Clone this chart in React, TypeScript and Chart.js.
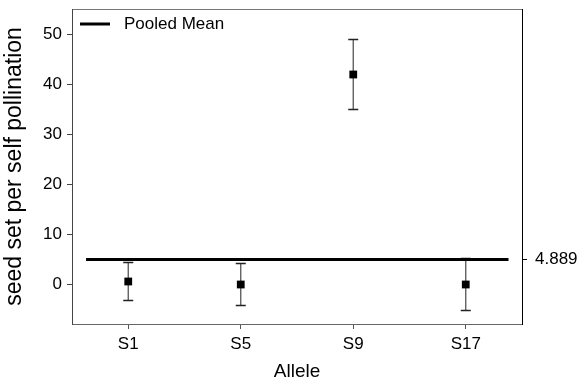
import { useEffect, useRef } from 'react';
import { Chart, registerables } from 'chart.js';

Chart.register(...registerables);

const categories = ['S1', 'S5', 'S9', 'S17'];
const means = [0.5, -0.1, 41.9, -0.1];
const errors = [3.8, 4.2, 7.0, 5.2];
const pooledMean = 4.889;
const pooledMeanLabel = '4.889';
const meanLineStart = -0.375;
const meanLineEnd = 3.38;
const yTicks = [0, 10, 20, 30, 40, 50];
const yMin = -8;
const yMax = 55;
const xMin = -0.5;
const xMax = 3.5;

const FONT = '"Liberation Sans", Arial, Helvetica, sans-serif';

const noPad = (s: any) => {
  s.paddingTop = 0;
  s.paddingBottom = 0;
  s.paddingLeft = 0;
  s.paddingRight = 0;
};

const errorBarPlugin = {
  id: 'errorBars',
  beforeDatasetsDraw(chart: any) {
    const { ctx, scales } = chart;
    const xs = scales.x;
    const ys = scales.y;
    ctx.save();
    categories.forEach((_, i) => {
      const x = xs.getPixelForValue(i);
      const yHi = ys.getPixelForValue(means[i] + errors[i]);
      const yLo = ys.getPixelForValue(means[i] - errors[i]);
      ctx.strokeStyle = '#555';
      ctx.lineWidth = 1.3;
      ctx.beginPath();
      ctx.moveTo(x, yHi);
      ctx.lineTo(x, yLo);
      ctx.stroke();
      ctx.strokeStyle = '#222';
      ctx.lineWidth = 1.3;
      ctx.beginPath();
      ctx.moveTo(x - 5, yHi);
      ctx.lineTo(x + 5, yHi);
      ctx.moveTo(x - 5, yLo);
      ctx.lineTo(x + 5, yLo);
      ctx.stroke();
    });
    ctx.restore();
  },
};

const legendPlugin = {
  id: 'insideLegend',
  afterDraw(chart: any) {
    const { ctx, chartArea } = chart;
    const y = chartArea.top + 15;
    ctx.save();
    ctx.strokeStyle = '#000';
    ctx.lineWidth = 3;
    ctx.beginPath();
    ctx.moveTo(chartArea.left + 8, y);
    ctx.lineTo(chartArea.left + 38, y);
    ctx.stroke();
    ctx.fillStyle = '#000';
    ctx.font = `17px ${FONT}`;
    ctx.textBaseline = 'middle';
    ctx.textAlign = 'left';
    ctx.fillText('Pooled Mean', chartArea.left + 52, y);
    ctx.restore();
  },
};

export default function App() {
  const ref = useRef<HTMLCanvasElement | null>(null);

  useEffect(() => {
    document.body.style.margin = '0';
    if (!ref.current) return;
    const chart = new Chart(ref.current, {
      type: 'scatter',
      data: {
        datasets: [
          {
            label: 'Pooled Mean',
            data: [
              { x: meanLineStart, y: pooledMean },
              { x: meanLineEnd, y: pooledMean },
            ],
            showLine: true,
            borderColor: '#000',
            borderWidth: 3,
            pointRadius: 0,
            order: 2,
          } as any,
          {
            label: 'Allele',
            data: categories.map((_, i) => ({ x: i, y: means[i] })),
            pointStyle: 'rect',
            pointRadius: 5.5,
            backgroundColor: '#000',
            borderWidth: 0,
            order: 1,
          } as any,
        ],
      },
      options: {
        animation: false,
        responsive: false,
        devicePixelRatio: 1,
        layout: { padding: 0 },
        plugins: {
          legend: { display: false },
          tooltip: { enabled: false },
        },
        scales: {
          x: {
            type: 'linear',
            position: 'bottom',
            min: xMin,
            max: xMax,
            afterBuildTicks: (s: any) => {
              s.ticks = categories.map((_, i) => ({ value: i }));
            },
            afterFit: (s: any) => {
              s.height = 62;
              noPad(s);
            },
            ticks: {
              callback: (v: any) => categories[v] ?? '',
              font: { family: FONT, size: 17 },
              color: '#000',
              padding: 5,
              autoSkip: false,
              maxRotation: 0,
            },
            grid: {
              display: true,
              drawOnChartArea: false,
              drawTicks: true,
              tickLength: 5,
              tickColor: '#555',
            },
            border: { display: true, color: '#666', width: 1 },
            title: {
              display: true,
              text: 'Allele',
              color: '#000',
              font: { family: FONT, size: 19 },
              padding: { top: 0, bottom: 3 },
            },
          },
          x2: {
            type: 'linear',
            position: 'top',
            display: true,
            min: xMin,
            max: xMax,
            afterFit: (s: any) => {
              s.height = 9;
              noPad(s);
            },
            ticks: { display: false },
            grid: { display: false, drawTicks: false },
            border: { display: true, color: '#777', width: 1 },
          },
          y: {
            type: 'linear',
            position: 'left',
            min: yMin,
            max: yMax,
            afterBuildTicks: (s: any) => {
              s.ticks = yTicks.map((v) => ({ value: v }));
            },
            afterFit: (s: any) => {
              s.width = 72;
              noPad(s);
            },
            ticks: {
              font: { family: FONT, size: 17 },
              color: '#000',
              padding: 5,
            },
            grid: {
              display: true,
              drawOnChartArea: false,
              drawTicks: true,
              tickLength: 5,
              tickColor: '#444',
            },
            border: { display: true, color: '#444', width: 1 },
            title: {
              display: true,
              text: 'seed set per self pollination',
              color: '#000',
              font: { family: FONT, size: 23 },
              padding: { top: 1, bottom: 0 },
            },
          },
          y2: {
            type: 'linear',
            position: 'right',
            min: yMin,
            max: yMax,
            afterBuildTicks: (s: any) => {
              s.ticks = [{ value: pooledMean }];
            },
            afterFit: (s: any) => {
              s.width = 59;
              noPad(s);
            },
            ticks: {
              callback: () => pooledMeanLabel,
              font: { family: FONT, size: 17 },
              color: '#000',
              padding: 8,
            },
            grid: {
              display: true,
              drawOnChartArea: false,
              drawTicks: true,
              tickLength: 5,
              tickColor: '#000',
            },
            border: { display: true, color: '#000', width: 1 },
          },
        },
      } as any,
      plugins: [errorBarPlugin, legendPlugin],
    });
    return () => chart.destroy();
  }, []);

  return (
    <div style={{ width: 581, height: 386 }}>
      <canvas ref={ref} width={581} height={386} style={{ display: 'block' }} />
    </div>
  );
}
